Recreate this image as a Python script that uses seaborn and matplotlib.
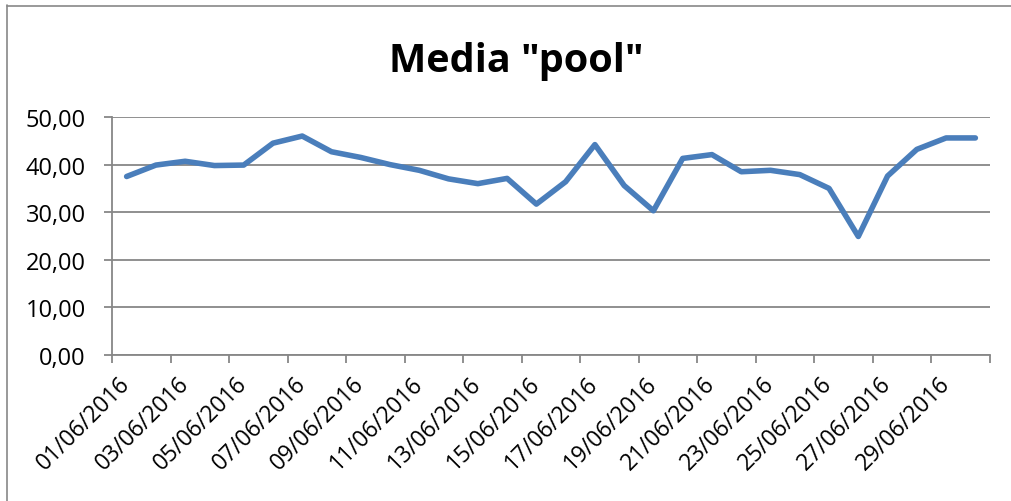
import matplotlib
matplotlib.use("Agg")
import matplotlib.pyplot as plt
from matplotlib.lines import Line2D
from matplotlib.ticker import FixedLocator, FuncFormatter
import seaborn as sns
import pandas as pd

# Daily average of the "pool" metric, June 2016
dates = [f"{d:02d}/06/2016" for d in range(1, 31)]
values = [37.5, 39.9, 40.7, 39.8, 39.9, 44.5, 46.0, 42.7, 41.5, 40.0,
          38.8, 37.0, 36.0, 37.1, 31.7, 36.4, 44.2, 35.6, 30.3, 41.3,
          42.1, 38.5, 38.8, 37.9, 35.0, 24.9, 37.6, 43.2, 45.6, 45.6]
title = 'Media "pool"'

sns.set_style("white")
plt.rcParams["font.family"] = ["Open Sans", "DejaVu Sans"]

df = pd.DataFrame({"idx": range(len(dates)), "value": values})

W, H = 1012, 502
fig = plt.figure(figsize=(W / 100, H / 100), dpi=100)
ax = fig.add_axes([112 / W, 1 - 356 / H, (990 - 112) / W, (356 - 118) / H])

grid_c = "#878787"
line_c = "#4A7EBB"

sns.lineplot(data=df, x="idx", y="value", ax=ax, color=line_c,
             linewidth=4.0, solid_capstyle="round", solid_joinstyle="round",
             zorder=3)

ax.set_xlim(-0.5, len(dates) - 0.5)
ax.set_ylim(0, 50)
ax.set_xlabel("")
ax.set_ylabel("")

# y axis: gridlines every 10, comma decimals
ax.yaxis.set_major_locator(FixedLocator([0, 10, 20, 30, 40, 50]))
ax.yaxis.set_major_formatter(FuncFormatter(lambda v, p: f"{v:.2f}".replace(".", ",")))
ax.grid(axis="y", color=grid_c, linewidth=1.3, zorder=1)
ax.grid(axis="x", visible=False)

# x axis: tick marks between every second category, labels on odd days
label_pos = list(range(0, len(dates), 2))
ax.xaxis.set_major_locator(FixedLocator(label_pos))
ax.set_xticklabels([dates[i] for i in label_pos])
ax.xaxis.set_minor_locator(FixedLocator([i - 0.5 for i in range(0, len(dates) + 1, 2)]))
ax.tick_params(axis="x", which="major", length=0, pad=18, labelsize=16.5,
               labelcolor="black")
ax.tick_params(axis="x", which="minor", length=6, width=1.3, color=grid_c,
               direction="out", bottom=True)
for lab in ax.get_xticklabels():
    lab.set_rotation(45)
    lab.set_ha("right")
    lab.set_va("center")
    lab.set_rotation_mode("anchor")

ax.tick_params(axis="y", which="major", length=6, width=1.3, color=grid_c,
               direction="out", left=True, pad=13, labelsize=17,
               labelcolor="black")

for side in ("top", "right"):
    ax.spines[side].set_visible(False)
for side in ("left", "bottom"):
    ax.spines[side].set_color(grid_c)
    ax.spines[side].set_linewidth(1.3)
    ax.spines[side].set_zorder(2)

fig.text(516 / W, 1 - 72 / H, title, ha="center", va="baseline",
         fontsize=28.5, fontweight="bold", color="black")

# chart area outline
fig.add_artist(Line2D([7.5 / W, 7.5 / W], [0, 1 - 6 / H], color=grid_c,
                      linewidth=1.2, transform=fig.transFigure))
fig.add_artist(Line2D([7 / W, 1], [1 - 6.5 / H, 1 - 6.5 / H], color=grid_c,
                      linewidth=1.2, transform=fig.transFigure))

fig.savefig("out.png", dpi=100, facecolor="white")
